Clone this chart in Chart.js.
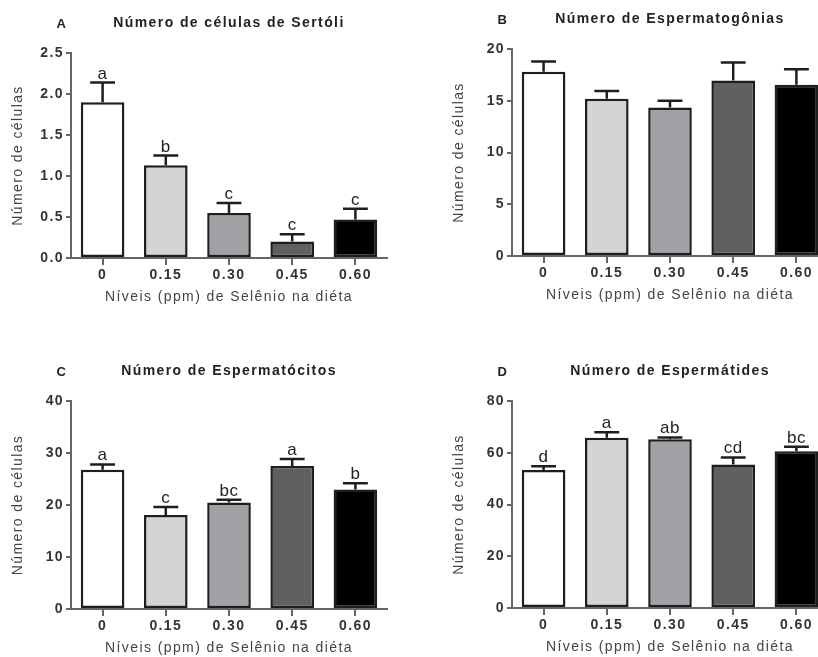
<!DOCTYPE html>
<html>
<head>
<meta charset="utf-8">
<script src="https://cdn.jsdelivr.net/npm/chart.js@4.4.0/dist/chart.umd.min.js"></script>
<style>
body { margin: 0; width: 818px; height: 657px; overflow: hidden; background: #fff; position: relative; }
canvas { position: absolute; }
</style>
</head>
<body>
<canvas id="cA" width="392" height="310" style="left:0;top:0"></canvas>
<canvas id="cB" width="392" height="308" style="left:441px;top:0"></canvas>
<canvas id="cC" width="392" height="331" style="left:0;top:330px"></canvas>
<canvas id="cD" width="392" height="330" style="left:441px;top:330px"></canvas>
<script>
// niveis de selenio (eixo x)
const niveis = ['0', '0.15', '0.30', '0.45', '0.60'];

// A - celulas de Sertoli
const sertoliMedia = [1.90, 1.13, 0.55, 0.20, 0.47];
const sertoliErro = [0.24, 0.12, 0.12, 0.09, 0.13];
const sertoliLetras = ['a', 'b', 'c', 'c', 'c'];

// B - espermatogonias
const gonMedia = [17.8, 15.2, 14.35, 16.95, 16.55];
const gonErro = [1.0, 0.75, 0.65, 1.75, 1.5];
const gonLetras = ['', '', '', '', ''];

// C - espermatocitos
const citoMedia = [26.8, 18.1, 20.5, 27.5, 23.0];
const citoErro = [1.0, 1.5, 0.5, 1.35, 1.2];
const citoLetras = ['a', 'c', 'bc', 'a', 'b'];

// D - espermatides
const tidesMedia = [53.3, 65.8, 65.2, 55.5, 60.6];
const tidesErro = [1.5, 2.1, 0.7, 2.7, 1.7];
const tidesLetras = ['d', 'a', 'ab', 'cd', 'bc'];

const corBarras = ['#ffffff', '#d4d4d4', '#a2a2a6', '#606060', '#000000'];

Chart.defaults.font.family = "'Liberation Sans', Arial, sans-serif";
Chart.defaults.color = '#333';

const espaco = '1.4px';

const painelPlugin = {
    id: 'painel',
    beforeDraw(chart) {
        chart.ctx.letterSpacing = espaco;
    },
    afterDatasetsDraw(chart, args, opts) {
        const ctx = chart.ctx;
        const meta = chart.getDatasetMeta(0);
        const y = chart.scales.y;
        ctx.save();
        ctx.letterSpacing = espaco;
        meta.data.forEach((bar, i) => {
            const topo = y.getPixelForValue(opts.media[i] + opts.erro[i]);
            const cap = bar.width * 0.57;
            ctx.strokeStyle = '#1e1e1e';
            ctx.lineWidth = 2.5;
            ctx.beginPath();
            ctx.moveTo(bar.x, bar.y);
            ctx.lineTo(bar.x, topo);
            ctx.moveTo(bar.x - cap / 2, topo);
            ctx.lineTo(bar.x + cap / 2, topo);
            ctx.stroke();
            if (opts.letras[i]) {
                ctx.fillStyle = '#222';
                ctx.font = "17px 'Liberation Sans', Arial, sans-serif";
                ctx.letterSpacing = '0.5px';
                ctx.textAlign = 'center';
                ctx.textBaseline = 'alphabetic';
                ctx.fillText(opts.letras[i], bar.x, topo - 4);
                ctx.letterSpacing = espaco;
            }
        });
        const area = chart.chartArea;
        ctx.fillStyle = '#222';
        ctx.textBaseline = 'middle';
        ctx.textAlign = 'center';
        ctx.font = "bold 14px 'Liberation Sans', Arial, sans-serif";
        ctx.fillText(opts.titulo, (area.left + area.right) / 2, area.top - 30);
        ctx.font = "bold 13px 'Liberation Sans', Arial, sans-serif";
        ctx.fillText(opts.letra, area.left - 9, area.top - 29);
        ctx.restore();
    }
};

function grafico(id, letra, titulo, media, erro, letras, max, passo, casas, topo) {
    new Chart(document.getElementById(id), {
        type: 'bar',
        data: {
            labels: niveis,
            datasets: [{
                data: media,
                backgroundColor: corBarras,
                borderColor: '#1e1e1e',
                borderWidth: 2.5,
                borderSkipped: false,
                barPercentage: 0.69,
                categoryPercentage: 1
            }]
        },
        options: {
            responsive: false,
            animation: false,
            layout: { padding: { top: topo, right: 5, left: 0, bottom: 0 } },
            plugins: {
                legend: { display: false },
                tooltip: { enabled: false },
                painel: { letra: letra, titulo: titulo, media: media, erro: erro, letras: letras }
            },
            scales: {
                x: {
                    offset: true,
                    grid: { drawOnChartArea: false, offset: false, tickLength: 7, color: '#666', lineWidth: 2 },
                    border: { display: true, color: '#666', width: 2 },
                    ticks: { color: '#333', padding: 2, font: { size: 14, weight: 'bold' } },
                    title: { display: true, text: 'Níveis (ppm) de Selênio na diéta', color: '#444', font: { size: 14 }, padding: { top: 0, bottom: 4 } },
                    afterFit: (s) => { s.height = 52; }
                },
                y: {
                    min: 0,
                    max: max,
                    grid: { drawOnChartArea: false, tickLength: 5, color: '#666', lineWidth: 2 },
                    border: { display: true, color: '#666', width: 2 },
                    ticks: {
                        stepSize: passo, color: '#333', padding: 2,
                        font: { size: 14, weight: 'bold' },
                        callback: (v) => v.toFixed(casas)
                    },
                    title: { display: true, text: 'Número de células', color: '#444', font: { size: 14 }, padding: { top: 10, bottom: 0 } },
                    afterFit: (s) => { s.width = 71; }
                }
            }
        },
        plugins: [painelPlugin]
    });
}

grafico('cA', 'A', 'Número de células de Sertóli', sertoliMedia, sertoliErro, sertoliLetras, 2.5, 0.5, 1, 53);
grafico('cB', 'B', 'Número de Espermatogônias', gonMedia, gonErro, gonLetras, 20, 5, 0, 49);
grafico('cC', 'C', 'Número de Espermatócitos', citoMedia, citoErro, citoLetras, 40, 10, 0, 71);
grafico('cD', 'D', 'Número de Espermátides', tidesMedia, tidesErro, tidesLetras, 80, 20, 0, 71);
</script>
</body>
</html>
